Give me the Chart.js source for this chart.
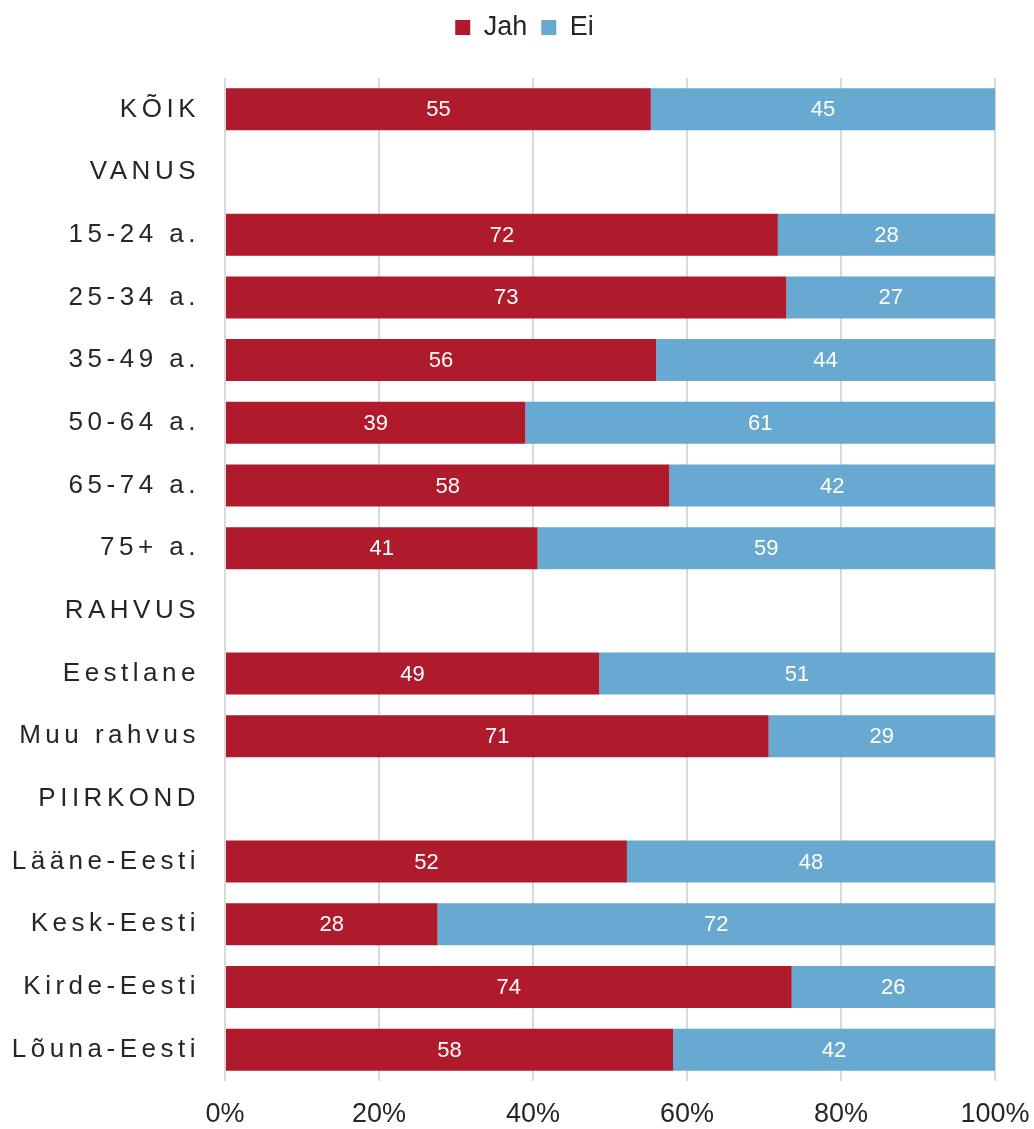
<!DOCTYPE html>
<html lang="et">
<head>
  <meta charset="UTF-8" />
  <title>Jah / Ei</title>
  <script src="https://cdn.jsdelivr.net/npm/chart.js"></script>
  <style>
    html, body { margin: 0; padding: 0; background: #fff; }
    #wrap { width: 1034px; height: 1129px; position: relative; }
  </style>
</head>
<body>
  <div id="wrap"><canvas id="chart"></canvas></div>
  <script>
    // categories (headers have no bars)
    const categories = ['KÕIK', 'VANUS', '15-24 a.', '25-34 a.', '35-49 a.', '50-64 a.', '65-74 a.', '75+ a.',
      'RAHVUS', 'Eestlane', 'Muu rahvus', 'PIIRKOND', 'Lääne-Eesti', 'Kesk-Eesti', 'Kirde-Eesti', 'Lõuna-Eesti'];
    const jah = [55.3, null, 71.8, 72.9, 56.0, 39.0, 57.7, 40.6, null, 48.6, 70.6, null, 52.2, 27.6, 73.6, 58.2];
    const ei  = [44.7, null, 28.2, 27.1, 44.0, 61.0, 42.3, 59.4, null, 51.4, 29.4, null, 47.8, 72.4, 26.4, 41.8];
    const xTicks = [0, 20, 40, 60, 80, 100];

    const FONT = "'Liberation Sans', Arial, sans-serif";
    Chart.defaults.font.family = FONT;
    Chart.defaults.color = '#262626';

    // value labels in the middle of each bar
    const barLabels = {
      id: 'barLabels',
      afterDatasetsDraw(chart) {
        const ctx = chart.ctx;
        ctx.save();
        ctx.font = '22px ' + FONT;
        ctx.fillStyle = '#fff';
        ctx.textAlign = 'center';
        ctx.textBaseline = 'middle';
        chart.data.datasets.forEach((ds, i) => {
          chart.getDatasetMeta(i).data.forEach((el, j) => {
            const v = ds.data[j];
            if (v == null) return;
            const p = el.getProps(['x', 'y', 'base'], true);
            ctx.fillText(Math.round(v), (p.x + p.base) / 2, p.y + 1);
          });
        });
        ctx.restore();
      }
    };

    // spaced-out category labels
    const spacedLabels = {
      id: 'spacedLabels',
      afterUpdate(chart) {
        const s = chart.scales.y;
        if (!s || s._spaced) return;
        const orig = s.drawLabels;
        s.drawLabels = function (area) {
          const c = this.ctx;
          c.save();
          c.letterSpacing = '4.5px';
          orig.call(this, area);
          c.restore();
        };
        s._spaced = true;
      }
    };

    // extra room below the legend, and nudge it a bit to the right
    const legendGap = {
      id: 'legendGap',
      beforeInit(chart) {
        const fit = chart.legend.fit;
        chart.legend.fit = function () {
          fit.call(this);
          this.height += 27;
        };
      },
      afterLayout(chart) {
        chart.legend.left += 27;
        chart.legend.right += 27;
      }
    };

    new Chart(document.getElementById('chart'), {
      type: 'bar',
      data: {
        labels: categories,
        datasets: [
          { label: 'Jah', data: jah, backgroundColor: '#B01A2D', barPercentage: 0.67, categoryPercentage: 1 },
          { label: 'Ei', data: ei, backgroundColor: '#67A9D0', barPercentage: 0.67, categoryPercentage: 1 }
        ]
      },
      options: {
        indexAxis: 'y',
        responsive: true,
        maintainAspectRatio: false,
        animation: false,
        layout: { padding: { left: 0, right: 39, top: 0, bottom: 0 } },
        plugins: {
          legend: {
            position: 'top',
            labels: { boxWidth: 15, boxHeight: 15, padding: 14, font: { size: 27 }, color: '#262626' }
          },
          tooltip: { enabled: false }
        },
        scales: {
          x: {
            stacked: true,
            min: 0,
            max: 100,
            afterBuildTicks: (s) => { s.ticks = xTicks.map(v => ({ value: v })); },
            afterFit: (s) => { s.height = 48; s.paddingRight = 0; s.paddingLeft = 0; },
            ticks: { callback: v => v + '%', font: { size: 27 }, padding: 17, color: '#262626' },
            grid: { color: '#d9d9d9', lineWidth: 2, drawTicks: false },
            border: { display: false }
          },
          y: {
            stacked: true,
            afterFit: (s) => { s.width = 225; },
            ticks: { font: { size: 26 }, padding: 25, color: '#262626', autoSkip: false },
            grid: { display: false, drawTicks: false },
            border: { display: false }
          }
        }
      },
      plugins: [barLabels, spacedLabels, legendGap]
    });
  </script>
</body>
</html>
